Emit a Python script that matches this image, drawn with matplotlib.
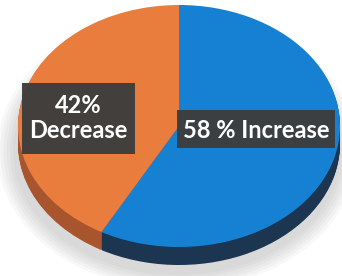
import numpy as np
import matplotlib
matplotlib.use("Agg")
import matplotlib.pyplot as plt
from matplotlib.patches import Rectangle, Ellipse

# data
labels = ["58 % Increase", "42%\nDecrease"]
values = [58, 42]
top_colors = ["#1681d2", "#e87d3e"]
side_colors = ["#1c3550", "#a8552e"]

W, H = 342, 276
fig = plt.figure(figsize=(W / 100, H / 100), dpi=100)
fig.patch.set_facecolor("white")
ax = fig.add_axes([0, 0, 1, 1])

# pixel geometry of the top face ellipse
cx, cy, rx, ry = 179, 126, 161, 121
depth = 18 / ry

# soft shadow under the pie
for i in range(6):
    grow = 0.12 - i * 0.02
    ax.add_patch(Ellipse((-0.01, -depth - 0.06), 2 + grow * 2, 2 + grow * 2.4,
                         facecolor="#8a8a8a", edgecolor="none", alpha=0.06, zorder=0))

# side wall: stack darker pies downward
for d in np.linspace(depth, 0, 20)[:-1]:
    ax.pie(values, colors=side_colors, startangle=90, counterclock=False,
           center=(0, -d), wedgeprops=dict(linewidth=0))

# top face
ax.pie(values, colors=top_colors, startangle=90, counterclock=False,
       wedgeprops=dict(linewidth=0))

ax.set_aspect("auto")
ax.set_xlim(-cx / rx, (W - cx) / rx)
ax.set_ylim((cy - H) / ry, cy / ry)
ax.axis("off")


def px(x, y):
    return x / W, 1 - y / H


# label boxes
for (x0, y0, x1, y1) in [(22, 83, 135, 154), (177, 110, 335, 148)]:
    fig.patches.append(Rectangle(px(x0, y1), (x1 - x0) / W, (y1 - y0) / H,
                                 transform=fig.transFigure, facecolor="#3d3d3d",
                                 edgecolor="none", alpha=0.97, zorder=5))

font = dict(color="white", fontweight="bold", family=["Lato", "DejaVu Sans"],
            fontsize=17, ha="center", va="center", zorder=6)
fig.text(*px(256, 131), labels[0], **font)
fig.text(*px(78, 118), labels[1], linespacing=1.15, **font)

fig.savefig("out.png", dpi=100)
